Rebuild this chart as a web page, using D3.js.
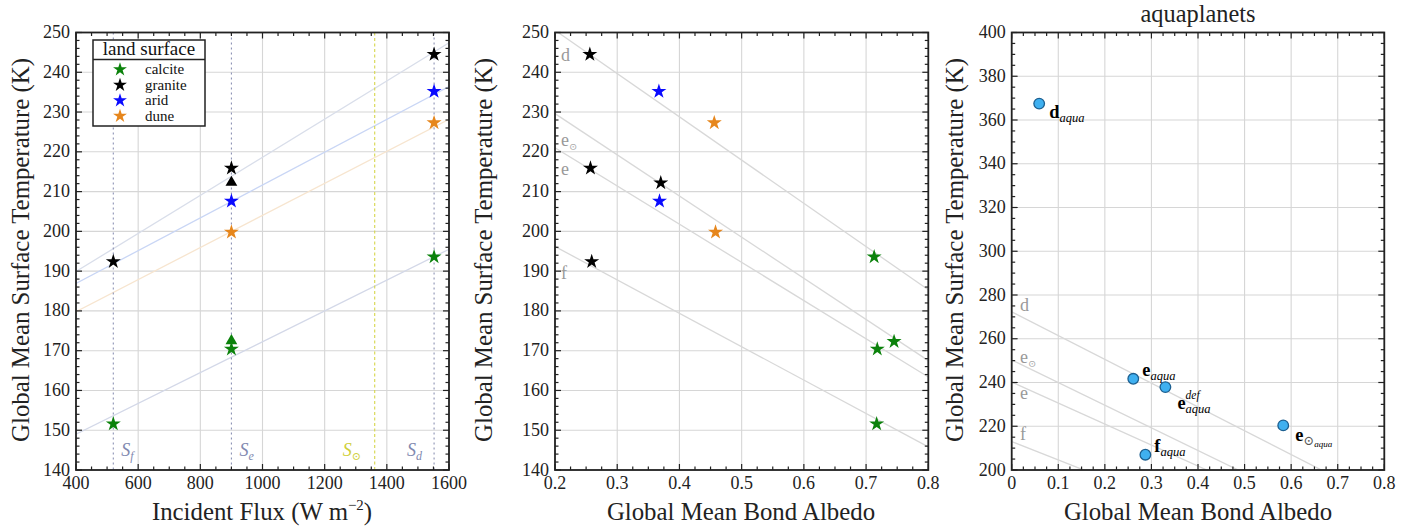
<!DOCTYPE html>
<html><head><meta charset="utf-8">
<script src="https://cdn.jsdelivr.net/npm/d3@7"></script>
<style>body{margin:0;background:#fff} svg{display:block}</style>
</head><body><svg id="c" width="1415" height="529"></svg>
<script>
// ---------------- DATA ----------------
const fluxTicks = [400, 600, 800, 1000, 1200, 1400, 1600];
const landTempTicks = [140, 150, 160, 170, 180, 190, 200, 210, 220, 230, 240, 250];
const albedoTicksMid = [0.2, 0.3, 0.4, 0.5, 0.6, 0.7, 0.8];
const albedoTicksAqua = [0, 0.1, 0.2, 0.3, 0.4, 0.5, 0.6, 0.7, 0.8];
const aquaTempTicks = [200, 220, 240, 260, 280, 300, 320, 340, 360, 380, 400];

const surfaceNames = ["calcite", "granite", "arid", "dune"];

// panel 1: incident flux vs temperature (stars)
const calciteFlux = [520, 900, 1552];
const calciteTemp = [151.6, 170.4, 193.6];
const graniteFlux = [520, 900, 1552];
const graniteTemp = [192.4, 215.9, 244.5];
const aridFlux = [900, 1552];
const aridTemp = [207.6, 235.2];
const duneFlux = [900, 1552];
const duneTemp = [199.8, 227.3];
// panel 1: triangles
const triSurface = ["granite", "calcite"];
const triFlux = [900, 900];
const triTemp = [212.3, 172.5];
// panel 1: fitted lines (temperature at 400 and 1600 W m^-2)
const fitSurface = ["granite", "arid", "dune", "calcite"];
const fitTempAt400 = [189.9, 186.9, 179.8, 149.0];
const fitTempAt1600 = [247.4, 236.4, 228.2, 195.5];
// instellation markers
const instNames = ["f", "e", "⊙", "d"];
const instFlux = [520, 900, 1361, 1552];

// panel 2: albedo vs temperature (stars)
const calciteAlbedo = [0.713, 0.718, 0.717, 0.745];
const calciteTempB = [193.6, 170.4, 151.6, 172.3];
const graniteAlbedo = [0.256, 0.257, 0.259, 0.370];
const graniteTempB = [244.5, 215.9, 192.4, 212.2];
const aridAlbedo = [0.367, 0.368];
const aridTempB = [235.2, 207.6];
const duneAlbedo = [0.456, 0.458];
const duneTempB = [227.3, 199.8];

// equilibrium lines (temperature at albedo 0 and 0.8)
const eqNames = ["d", "e⊙", "e", "f"];
const eqTempAt0 = [272.3, 250.3, 240.2, 213.0];
const eqTempAt08 = [185.3, 167.5, 163.4, 145.8];

// panel 3: aquaplanets
const aquaNames = ["d", "e", "edef", "e⊙", "f"];
const aquaAlbedo = [0.059, 0.261, 0.330, 0.583, 0.287];
const aquaTemp = [367.5, 241.7, 237.9, 220.4, 207.0];

// ---------------- STYLE ----------------
const svg = d3.select("#c").style("font-family", '"Liberation Serif", "DejaVu Serif", serif');
const surfaceColor = {calcite: "#0b820b", granite: "#000000", arid: "#0a0aff", dune: "#e6861c"};
const fitColor = {granite: "#d9deea", arid: "#c9d6f5", dune: "#f7e5cf", calcite: "#d3d8e8"};
const plotTop = 32.5, plotBottom = 470;

function fitSize(str, width, opts) {
  const t = svg.append("text").attr("font-size", 100).text(str);
  if (opts && opts.bold) t.attr("font-weight", "bold");
  const w = t.node().getComputedTextLength();
  t.remove();
  return 100 * width / w;
}
const FONT_TICK = fitSize("1000", 36);
const FONT_LABEL = fitSize("Global Mean Surface Temperature (K)", 384);
const FONT_TITLE = fitSize("aquaplanets", 115);
const FONT_LEG_TITLE = Math.min(fitSize("land surface", 95), 19);
const FONT_LEG = Math.min(fitSize("granite", 55), 15);

function makePanel(x0, x1, xDom, yDom, xTicks, yTicks, xMinor, yMinor, id) {
  const x = d3.scaleLinear().domain(xDom).range([x0, x1]);
  const y = d3.scaleLinear().domain(yDom).range([plotBottom, plotTop]);
  const g = svg.append("g");
  svg.append("clipPath").attr("id", id).append("rect")
    .attr("x", x0).attr("y", plotTop).attr("width", x1 - x0).attr("height", plotBottom - plotTop);
  g.append("g").selectAll("line").data(xTicks).join("line")
    .attr("x1", d => x(d)).attr("x2", d => x(d)).attr("y1", plotTop).attr("y2", plotBottom)
    .attr("stroke", "#d6d6d6").attr("stroke-width", 1.1);
  g.append("g").selectAll("line").data(yTicks).join("line")
    .attr("y1", d => y(d)).attr("y2", d => y(d)).attr("x1", x0).attr("x2", x1)
    .attr("stroke", "#d6d6d6").attr("stroke-width", 1.1);
  const content = svg.append("g").attr("clip-path", `url(#${id})`);
  const over = svg.append("g");
  return {x, y, g, content, over, x0, x1, xDom, yDom, xTicks, yTicks, xMinor, yMinor};
}

function finishPanel(p, fmtX, fmtY) {
  const {x, y, over, x0, x1, xDom, yDom, xTicks, yTicks, xMinor, yMinor} = p;
  const minors = (dom, step, majors) => {
    const out = [];
    const n = Math.round((dom[1] - dom[0]) / step);
    for (let i = 0; i <= n; i++) {
      const v = dom[0] + i * step;
      if (!majors.some(m => Math.abs(m - v) < step * 0.01)) out.push(v);
    }
    return out;
  };
  const xm = minors(xDom, xMinor, xTicks), ym = minors(yDom, yMinor, yTicks);
  const tk = over.append("g").attr("stroke", "#222").attr("stroke-width", 1.2);
  const ML = 6, ms = 3.5;
  xTicks.forEach(v => {
    tk.append("line").attr("x1", x(v)).attr("x2", x(v)).attr("y1", plotBottom).attr("y2", plotBottom - ML);
    tk.append("line").attr("x1", x(v)).attr("x2", x(v)).attr("y1", plotTop).attr("y2", plotTop + ML);
  });
  xm.forEach(v => {
    tk.append("line").attr("x1", x(v)).attr("x2", x(v)).attr("y1", plotBottom).attr("y2", plotBottom - ms);
    tk.append("line").attr("x1", x(v)).attr("x2", x(v)).attr("y1", plotTop).attr("y2", plotTop + ms);
  });
  yTicks.forEach(v => {
    tk.append("line").attr("y1", y(v)).attr("y2", y(v)).attr("x1", x0).attr("x2", x0 + ML);
    tk.append("line").attr("y1", y(v)).attr("y2", y(v)).attr("x1", x1).attr("x2", x1 - ML);
  });
  ym.forEach(v => {
    tk.append("line").attr("y1", y(v)).attr("y2", y(v)).attr("x1", x0).attr("x2", x0 + ms);
    tk.append("line").attr("y1", y(v)).attr("y2", y(v)).attr("x1", x1).attr("x2", x1 - ms);
  });
  over.append("rect").attr("x", x0).attr("y", plotTop).attr("width", x1 - x0).attr("height", plotBottom - plotTop)
    .attr("fill", "none").attr("stroke", "#222").attr("stroke-width", 1.8);
  over.append("g").selectAll("text").data(xTicks).join("text")
    .attr("x", d => x(d)).attr("y", plotBottom + 19).attr("text-anchor", "middle")
    .attr("font-size", FONT_TICK).attr("fill", "#222").text(fmtX);
  over.append("g").selectAll("text").data(yTicks).join("text")
    .attr("x", x0 - 6).attr("y", d => y(d) + 5.5).attr("text-anchor", "end")
    .attr("font-size", FONT_TICK).attr("fill", "#222").text(fmtY);
}

function yLabel(xpos) {
  svg.append("text").attr("transform", `translate(${xpos},250) rotate(-90)`)
    .attr("text-anchor", "middle").attr("font-size", FONT_LABEL).attr("fill", "#222")
    .text("Global Mean Surface Temperature (K)");
}

function rich(g, x, y, parts, center) {
  const grp = g.append("g");
  let cx = x, lastStart = x;
  parts.forEach(pt => {
    const px = pt.stack ? lastStart : cx;
    const t = grp.append("text").attr("x", px).attr("y", y + (pt.dy || 0)).text(pt.t)
      .attr("font-size", pt.size).attr("font-style", pt.italic ? "italic" : "normal")
      .attr("font-weight", pt.bold ? "bold" : "normal").attr("fill", pt.fill || "#000");
    const w = t.node().getComputedTextLength();
    if (!pt.stack) { lastStart = px; cx = px + w; } else { cx = Math.max(cx, px + w); }
  });
  if (center) grp.attr("transform", `translate(${-(cx - x) / 2},0)`);
  return grp;
}

function stars(layer, xs, ys, color, xs2, ys2, size) {
  layer.append("g").selectAll("path").data(xs.map((v, i) => [v, ys[i]])).join("path")
    .attr("transform", d => `translate(${xs2(d[0])},${ys2(d[1])})`)
    .attr("d", d3.symbol(d3.symbolStar, size || 70)).attr("fill", color);
}

// ---------------- PANEL 1 ----------------
const p1 = makePanel(76, 449, [400, 1600], [140, 250], fluxTicks, landTempTicks, 50, 2, "clip1");
fitSurface.forEach((s, i) => {
  p1.content.append("line").attr("x1", p1.x(400)).attr("x2", p1.x(1600))
    .attr("y1", p1.y(fitTempAt400[i])).attr("y2", p1.y(fitTempAt1600[i]))
    .attr("stroke", fitColor[s]).attr("stroke-width", 1.3);
});
instNames.forEach((n, i) => {
  const sun = n === "⊙";
  p1.content.append("line").attr("x1", p1.x(instFlux[i])).attr("x2", p1.x(instFlux[i]))
    .attr("y1", plotTop).attr("y2", plotBottom)
    .attr("stroke", sun ? "#d6d64a" : "#8c92b4").attr("stroke-width", 1.1)
    .attr("stroke-dasharray", sun ? "3,2.5" : "2,3");
});
const instLabelDx = [8, 8, -32, -27];
instNames.forEach((n, i) => {
  const sun = n === "⊙";
  const col = sun ? "#cfcf3a" : "#8189b0";
  rich(p1.over, p1.x(instFlux[i]) + instLabelDx[i], 456, [
    {t: "S", size: FONT_TICK, italic: true, fill: col},
    {t: n, size: sun ? 11 : 12, italic: !sun, fill: col, dy: 4}
  ]);
});
stars(p1.content, calciteFlux, calciteTemp, surfaceColor.calcite, p1.x, p1.y);
stars(p1.content, graniteFlux, graniteTemp, surfaceColor.granite, p1.x, p1.y);
stars(p1.content, aridFlux, aridTemp, surfaceColor.arid, p1.x, p1.y);
stars(p1.content, duneFlux, duneTemp, surfaceColor.dune, p1.x, p1.y);
p1.content.append("g").selectAll("path").data(triFlux.map((v, i) => [v, triTemp[i], triSurface[i]])).join("path")
  .attr("transform", d => `translate(${p1.x(d[0])},${p1.y(d[1])})`)
  .attr("d", d3.symbol(d3.symbolTriangle, 60)).attr("fill", d => surfaceColor[d[2]]);
finishPanel(p1, d => d, d => d);
const lg = svg.append("g");
lg.append("rect").attr("x", 93).attr("y", 40).attr("width", 112).attr("height", 86)
  .attr("fill", "#fff").attr("stroke", "#222").attr("stroke-width", 1.5);
lg.append("line").attr("x1", 93).attr("x2", 205).attr("y1", 59.5).attr("y2", 59.5)
  .attr("stroke", "#222").attr("stroke-width", 1.3);
lg.append("text").attr("x", 149).attr("y", 55).attr("text-anchor", "middle")
  .attr("font-size", FONT_LEG_TITLE).attr("fill", "#111").text("land surface");
surfaceNames.forEach((s, i) => {
  const yy = 69.5 + i * 15.5;
  lg.append("path").attr("transform", `translate(120,${yy})`)
    .attr("d", d3.symbol(d3.symbolStar, 60)).attr("fill", surfaceColor[s]);
  lg.append("text").attr("x", 145).attr("y", yy + 4.5).attr("font-size", FONT_LEG).attr("fill", "#111").text(s);
});
yLabel(29);
rich(svg, 262, 520, [
  {t: "Incident Flux (W m", size: FONT_LABEL, fill: "#222"},
  {t: "−2", size: FONT_LABEL * 0.6, fill: "#222", dy: -10},
  {t: ")", size: FONT_LABEL, fill: "#222"}
], true);

// ---------------- PANEL 2 ----------------
const p2 = makePanel(555, 928.3, [0.2, 0.8], [140, 250], albedoTicksMid, landTempTicks, 0.025, 2, "clip2");
eqNames.forEach((n, i) => {
  p2.content.append("line").attr("x1", p2.x(0)).attr("x2", p2.x(0.8))
    .attr("y1", p2.y(eqTempAt0[i])).attr("y2", p2.y(eqTempAt08[i]))
    .attr("stroke", "#d8d8d8").attr("stroke-width", 1.3);
});
const eqLabelMidT = [244.2, 222.8, 215.5, 189.4];
eqNames.forEach((n, i) => {
  const parts = [{t: n[0], size: FONT_TICK, fill: "#999"}];
  if (n.length > 1) parts.push({t: n.slice(1), size: 10, fill: "#aaa", dy: 4});
  rich(p2.over, 561, p2.y(eqLabelMidT[i]) + 5, parts);
});
stars(p2.content, calciteAlbedo, calciteTempB, surfaceColor.calcite, p2.x, p2.y);
stars(p2.content, graniteAlbedo, graniteTempB, surfaceColor.granite, p2.x, p2.y);
stars(p2.content, aridAlbedo, aridTempB, surfaceColor.arid, p2.x, p2.y);
stars(p2.content, duneAlbedo, duneTempB, surfaceColor.dune, p2.x, p2.y);
finishPanel(p2, d => d.toFixed(1), d => d);
yLabel(492);
svg.append("text").attr("x", 741).attr("y", 520).attr("text-anchor", "middle")
  .attr("font-size", FONT_LABEL).attr("fill", "#222").text("Global Mean Bond Albedo");

// ---------------- PANEL 3 ----------------
const p3 = makePanel(1011.7, 1384.3, [0, 0.8], [200, 400], albedoTicksAqua, aquaTempTicks, 0.025, 5, "clip3");
eqNames.forEach((n, i) => {
  p3.content.append("line").attr("x1", p3.x(0)).attr("x2", p3.x(0.8))
    .attr("y1", p3.y(eqTempAt0[i])).attr("y2", p3.y(eqTempAt08[i]))
    .attr("stroke", "#d8d8d8").attr("stroke-width", 1.3);
});
const eqLabelAquaT = [274.8, 251.2, 234.6, 216.0];
eqNames.forEach((n, i) => {
  const parts = [{t: n[0], size: FONT_TICK, fill: "#999"}];
  if (n.length > 1) parts.push({t: n.slice(1), size: 10, fill: "#aaa", dy: 4});
  rich(p3.over, 1020, p3.y(eqLabelAquaT[i]) + 5, parts);
});
p3.content.append("g").selectAll("circle").data(aquaAlbedo.map((v, i) => [v, aquaTemp[i]])).join("circle")
  .attr("cx", d => p3.x(d[0])).attr("cy", d => p3.y(d[1])).attr("r", 5.3)
  .attr("fill", "#3fb0f0").attr("stroke", "#1c5f90").attr("stroke-width", 1.3);
const aquaLabelDx = [10, 9, 12, 12, 9];
const aquaLabelDy = [14, -3, 22, 16, -3];
aquaNames.forEach((n, i) => {
  const px = p3.x(aquaAlbedo[i]) + aquaLabelDx[i], py = p3.y(aquaTemp[i]) + aquaLabelDy[i];
  let parts;
  const M = FONT_TICK * 1.02;
  if (n === "edef") parts = [
    {t: "e", size: M, bold: true},
    {t: "def", size: 11.5, italic: true, dy: -10},
    {t: "aqua", size: 12.5, italic: true, dy: 4, stack: true}];
  else if (n === "e⊙") parts = [
    {t: "e", size: M, bold: true},
    {t: "⊙", size: 13, dy: 4, fill: "#555"},
    {t: "aqua", size: 9, italic: true, dy: 6}];
  else parts = [
    {t: n, size: M, bold: true},
    {t: "aqua", size: 12.5, italic: true, dy: 4}];
  rich(p3.over, px, py, parts);
});
finishPanel(p3, d => +d.toFixed(1), d => d);
yLabel(963);
svg.append("text").attr("x", 1198).attr("y", 520).attr("text-anchor", "middle")
  .attr("font-size", FONT_LABEL).attr("fill", "#222").text("Global Mean Bond Albedo");
svg.append("text").attr("x", 1198).attr("y", 22).attr("text-anchor", "middle")
  .attr("font-size", FONT_TITLE).attr("fill", "#222").text("aquaplanets");
</script></body></html>
